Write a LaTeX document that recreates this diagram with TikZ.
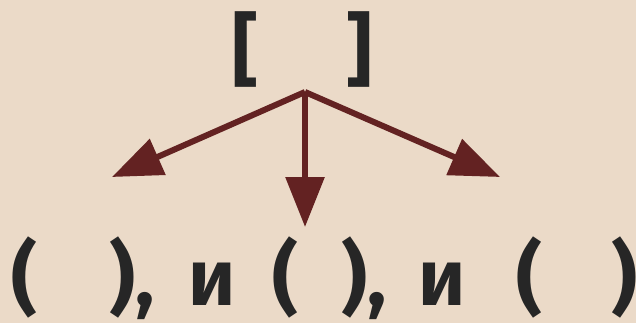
\documentclass[tikz,border=0pt]{standalone}
\usepackage{fontspec}
\setmainfont{Fira Sans}[BoldFont=* Bold]
\usetikzlibrary{arrows.meta}
\definecolor{cBg}{RGB}{235,218,200}
\definecolor{cInk}{RGB}{38,38,38}
\definecolor{cArrow}{RGB}{99,34,34}
\tikzset{
	glyph/.style ={inner sep=0pt, text=cInk, font=\fontsize{80}{80}\selectfont\bfseries},
	branch/.style={-{Triangle[length=50pt, width=38pt]}, line width=6pt, draw=cArrow},
}
\begin{document}
\begin{tikzpicture}[x=1pt, y=-1pt]
	\fill[cBg] (0,0) rectangle (636,323);
	\useasboundingbox (0,0) rectangle (636,323);
	% top bracket
	\node[glyph] (lb) at (245,50) {[};
	\node[glyph] (rb) at (359,50) {]};
	% bottom line
	\node[glyph, anchor=base] (lp1) at (25,305) {(};
	\node[glyph, anchor=base] (rp1) at (132,305) {),};
	\node[glyph, anchor=base] (and1) at (212,305) {и};
	\node[glyph, anchor=base] (lp2) at (285,305) {(};
	\node[glyph, anchor=base] (rp2) at (364,305) {),};
	\node[glyph, anchor=base] (and2) at (442,305) {и};
	\node[glyph, anchor=base] (lp3) at (529,305) {(};
	\node[glyph, anchor=base] (rp3) at (624,305) {)};
	% arrows
	\coordinate (top) at (305,92);
	\coordinate (tl) at (112,177);
	\coordinate (tm) at (305,227);
	\coordinate (tr) at (500,177);
	\draw[branch] (top) -- (tl);
	\draw[branch] (top) -- (tm);
	\draw[branch] (top) -- (tr);
\end{tikzpicture}
\end{document}
